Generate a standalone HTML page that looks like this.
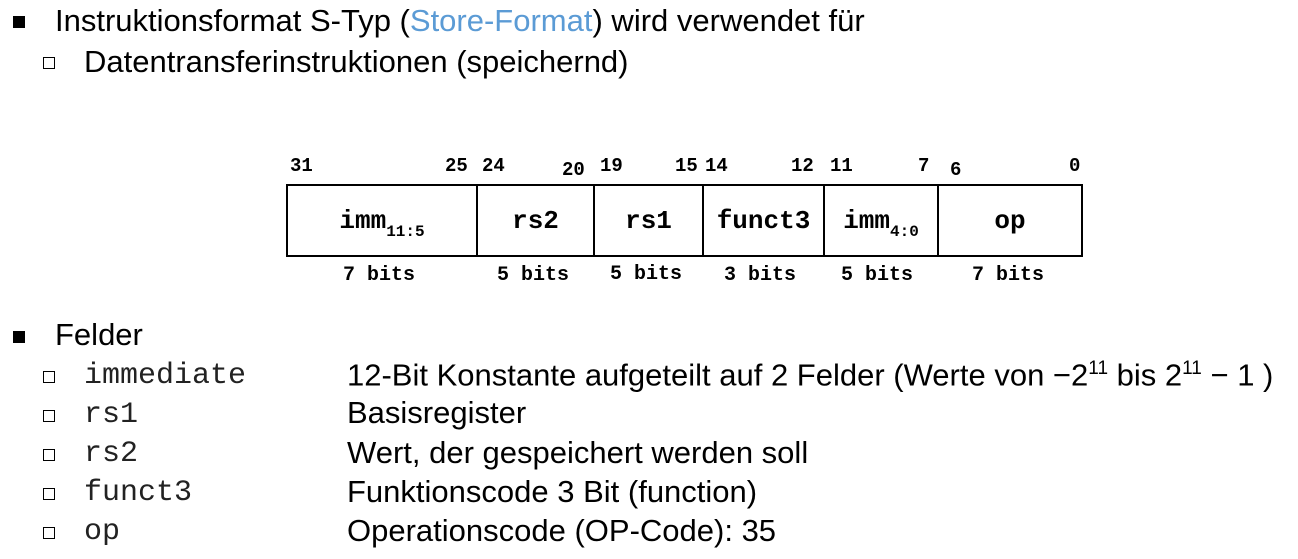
<!DOCTYPE html>
<html><head><meta charset="utf-8"><style>
body{margin:0;width:1298px;height:559px;background:#fff;position:relative;overflow:hidden;font-family:"Liberation Sans",Arial,sans-serif;color:#000}
.a{position:absolute;white-space:nowrap;line-height:1}
.s{font-size:31px}
.m{font-family:"Liberation Mono",monospace;color:#222}
.fb{position:absolute;width:12px;height:12px;background:#000}
.hb{position:absolute;width:10px;height:10px;border:1px solid #000}
.num{font-size:19px;font-family:"Liberation Mono",monospace;font-weight:bold;position:absolute;line-height:1;top:157px}
.bits{font-size:20px;font-family:"Liberation Mono",monospace;font-weight:bold;position:absolute;line-height:1;top:266px;white-space:nowrap}
.box{position:absolute;left:286px;top:184px;width:793px;height:69px;border:2px solid #000;display:flex}
.box div{border-right:2px solid #000;display:flex;align-items:center;justify-content:center;font-family:"Liberation Mono",monospace;font-weight:bold;font-size:26px}
.box div:last-child{border-right:none}
.sb{font-size:16px;position:relative;top:8px}
</style></head><body>
<div class="fb" style="left:13px;top:16px"></div>
<div class="a s" style="left:55px;top:5px">Instruktionsformat S-Typ (<span style="color:#5b9bd5">Store-Format</span>) wird verwendet für</div>
<div class="hb" style="left:43px;top:57px"></div>
<div class="a s" style="left:84px;top:46px">Datentransferinstruktionen (speichernd)</div>

<div class="num" style="left:290px">31</div>
<div class="num" style="left:445px">25</div>
<div class="num" style="left:482px">24</div>
<div class="num" style="left:562px;top:161px">20</div>
<div class="num" style="left:600px">19</div>
<div class="num" style="left:675px">15</div>
<div class="num" style="left:705px">14</div>
<div class="num" style="left:791px">12</div>
<div class="num" style="left:830px">11</div>
<div class="num" style="left:918px">7</div>
<div class="num" style="left:950px;top:161px">6</div>
<div class="num" style="left:1069px">0</div>

<div class="box">
<div style="width:188px"><span>imm<span class="sb">11:5</span></span></div>
<div style="width:115px">rs2</div>
<div style="width:107px">rs1</div>
<div style="width:119px">funct3</div>
<div style="width:112px"><span>imm<span class="sb">4:0</span></span></div>
<div style="flex:1">op</div>
</div>
<div class="bits" style="left:343px">7 bits</div>
<div class="bits" style="left:497px">5 bits</div>
<div class="bits" style="left:610px;top:265px">5 bits</div>
<div class="bits" style="left:724px">3 bits</div>
<div class="bits" style="left:841px">5 bits</div>
<div class="bits" style="left:972px">7 bits</div>

<div class="fb" style="left:13px;top:331px"></div>
<div class="a s" style="left:55px;top:319px">Felder</div>

<div class="hb" style="left:43px;top:371px"></div>
<div class="a m" style="left:84px;top:361px;font-size:30px">immediate</div>
<div class="a s" style="left:347px;top:359px">12-Bit Konstante aufgeteilt auf 2 Felder (Werte von −2<sup style="font-size:19px">11</sup> bis 2<sup style="font-size:19px">11</sup> − 1 )</div>

<div class="hb" style="left:43px;top:410px"></div>
<div class="a m" style="left:84px;top:400px;font-size:30px">rs1</div>
<div class="a s" style="left:347px;top:397px">Basisregister</div>

<div class="hb" style="left:43px;top:449px"></div>
<div class="a m" style="left:84px;top:439px;font-size:30px">rs2</div>
<div class="a s" style="left:347px;top:437px">Wert, der gespeichert werden soll</div>

<div class="hb" style="left:43px;top:488px"></div>
<div class="a m" style="left:84px;top:478px;font-size:30px">funct3</div>
<div class="a s" style="left:347px;top:476px">Funktionscode 3 Bit (function)</div>

<div class="hb" style="left:43px;top:527px"></div>
<div class="a m" style="left:84px;top:517px;font-size:30px">op</div>
<div class="a s" style="left:347px;top:515px">Operationscode (OP-Code): 35</div>
</body></html>
